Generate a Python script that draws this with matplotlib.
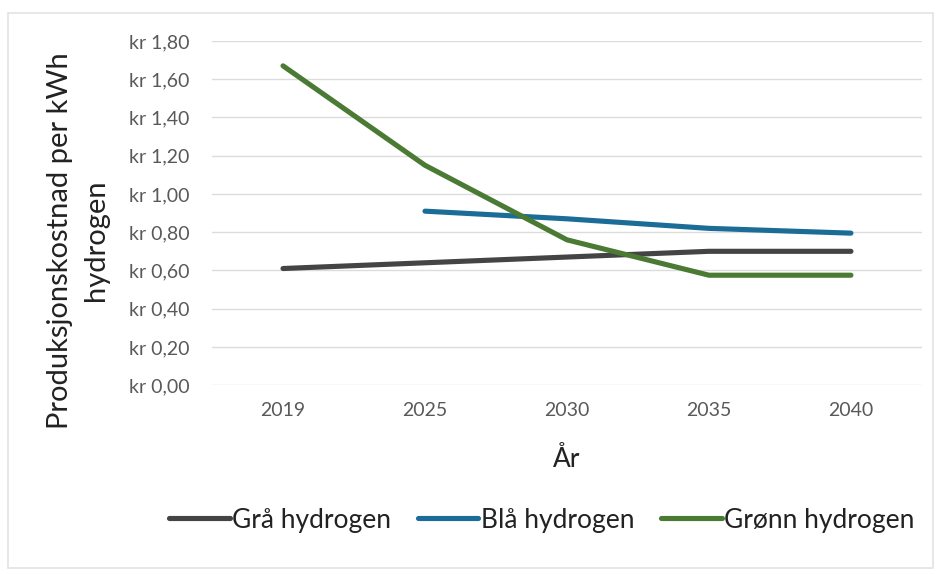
import numpy as np
import matplotlib
matplotlib.use("Agg")
import matplotlib.pyplot as plt
from matplotlib.patches import Rectangle
from matplotlib.ticker import FuncFormatter

plt.rcParams['font.family'] = ['Lato', 'DejaVu Sans']

years = ["2019", "2025", "2030", "2035", "2040"]
gra = [0.61, 0.64, 0.67, 0.70, 0.70]
bla = [np.nan, 0.91, 0.87, 0.82, 0.795]
gronn = [1.67, 1.15, 0.76, 0.575, 0.575]

fig = plt.figure(figsize=(9.39, 5.74), dpi=100)
ax = fig.add_axes([0.2258, 0.329, 0.756, 0.5996])

# light frame around the whole chart
fig.patches.append(Rectangle((0.009, 0.01), 0.985, 0.968, transform=fig.transFigure,
                             fill=False, edgecolor='#e3e3e3', linewidth=1.2))

x = np.arange(len(years))
ax.plot(x, gra, color='#444444', lw=3.7, solid_capstyle='round', label='Grå hydrogen')
ax.plot(x, bla, color='#1b6c97', lw=3.7, solid_capstyle='round', label='Blå hydrogen')
ax.plot(x, gronn, color='#4b7a35', lw=3.7, solid_capstyle='round', label='Grønn hydrogen')

ax.set_xlim(-0.5, len(years) - 0.5)
ax.set_ylim(0, 1.8)
ax.set_yticks(np.arange(0, 1.81, 0.2))
ax.yaxis.set_major_formatter(FuncFormatter(lambda v, p: "kr " + f"{v:.2f}".replace(".", ",")))
ax.set_xticks(x)
ax.set_xticklabels(years)
ax.grid(axis='y', color='#dcdcdc', lw=1)
ax.set_axisbelow(True)
for s in ax.spines.values():
    s.set_visible(False)
ax.tick_params(length=0, labelsize=14, colors='#595959', pad=12)
ax.tick_params(axis='y', pad=16)

ax.set_ylabel("Produksjonskostnad per kWh\nhydrogen", fontsize=21, color='#222222',
              linespacing=1.5)
ax.yaxis.set_label_coords(-0.145, 0.42)
ax.set_xlabel("År", fontsize=19, color='#222222', labelpad=20)

fig.legend(loc='center', bbox_to_anchor=(0.577, 0.094), ncol=3, frameon=False,
           fontsize=19, handlelength=2.3, handletextpad=0.1, columnspacing=1.0,
           labelcolor='#222222')

fig.savefig("out.png", dpi=100)
